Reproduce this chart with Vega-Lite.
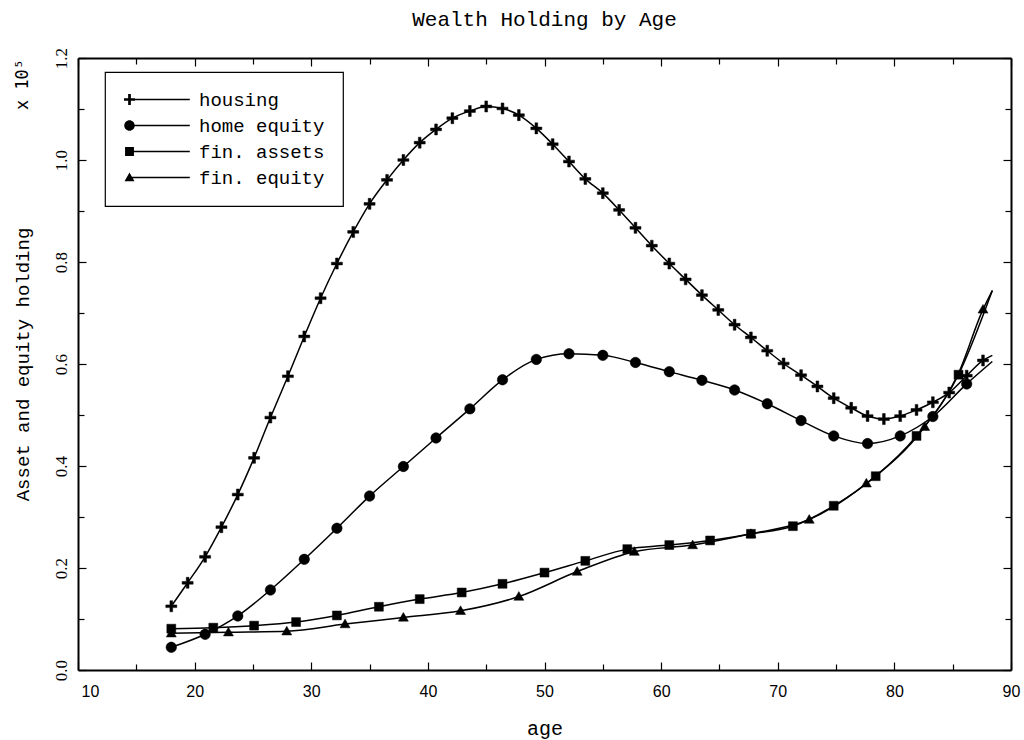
{
  "$schema": "https://vega.github.io/schema/vega-lite/v6.json",
  "width": 933,
  "height": 612,
  "autosize": {"type": "none"},
  "padding": {"left": 78, "top": 58, "right": 13, "bottom": 70},
  "background": "white",
  "title": {"text": "Wealth Holding by Age", "font": "Liberation Mono", "fontSize": 21, "fontWeight": "normal", "color": "black", "anchor": "middle", "frame": "group", "baseline": "alphabetic", "offset": 0},
  "config": {
    "view": {"stroke": null},
    "legend": {"strokeWidth": 1.2}
  },
  "datasets": {
    "markers": [
      {"s": "housing", "age": 18.0, "v": 0.125}, {"s": "housing", "age": 19.4, "v": 0.171}, {"s": "housing", "age": 20.9, "v": 0.222},
      {"s": "housing", "age": 22.3, "v": 0.280}, {"s": "housing", "age": 23.7, "v": 0.344}, {"s": "housing", "age": 25.1, "v": 0.416},
      {"s": "housing", "age": 26.5, "v": 0.495}, {"s": "housing", "age": 28.0, "v": 0.576}, {"s": "housing", "age": 29.4, "v": 0.654},
      {"s": "housing", "age": 30.8, "v": 0.729}, {"s": "housing", "age": 32.2, "v": 0.797}, {"s": "housing", "age": 33.6, "v": 0.859},
      {"s": "housing", "age": 35.0, "v": 0.914}, {"s": "housing", "age": 36.5, "v": 0.961}, {"s": "housing", "age": 37.9, "v": 1.000},
      {"s": "housing", "age": 39.3, "v": 1.034}, {"s": "housing", "age": 40.7, "v": 1.060}, {"s": "housing", "age": 42.1, "v": 1.082},
      {"s": "housing", "age": 43.6, "v": 1.096}, {"s": "housing", "age": 45.0, "v": 1.105}, {"s": "housing", "age": 46.4, "v": 1.101},
      {"s": "housing", "age": 47.8, "v": 1.088}, {"s": "housing", "age": 49.3, "v": 1.062}, {"s": "housing", "age": 50.7, "v": 1.031},
      {"s": "housing", "age": 52.1, "v": 0.997}, {"s": "housing", "age": 53.5, "v": 0.963}, {"s": "housing", "age": 55.0, "v": 0.935},
      {"s": "housing", "age": 56.4, "v": 0.902}, {"s": "housing", "age": 57.8, "v": 0.867}, {"s": "housing", "age": 59.2, "v": 0.832},
      {"s": "housing", "age": 60.7, "v": 0.797}, {"s": "housing", "age": 62.1, "v": 0.766}, {"s": "housing", "age": 63.5, "v": 0.735},
      {"s": "housing", "age": 64.9, "v": 0.706}, {"s": "housing", "age": 66.3, "v": 0.677}, {"s": "housing", "age": 67.7, "v": 0.652},
      {"s": "housing", "age": 69.1, "v": 0.626}, {"s": "housing", "age": 70.5, "v": 0.601}, {"s": "housing", "age": 72.0, "v": 0.578},
      {"s": "housing", "age": 73.4, "v": 0.556}, {"s": "housing", "age": 74.8, "v": 0.533}, {"s": "housing", "age": 76.3, "v": 0.514},
      {"s": "housing", "age": 77.7, "v": 0.498}, {"s": "housing", "age": 79.1, "v": 0.492}, {"s": "housing", "age": 80.5, "v": 0.498},
      {"s": "housing", "age": 81.9, "v": 0.510}, {"s": "housing", "age": 83.3, "v": 0.525}, {"s": "housing", "age": 84.7, "v": 0.544},
      {"s": "housing", "age": 86.2, "v": 0.577}, {"s": "housing", "age": 87.6, "v": 0.607},
      {"s": "home equity", "age": 18.0, "v": 0.0445}, {"s": "home equity", "age": 20.9, "v": 0.070}, {"s": "home equity", "age": 23.7, "v": 0.106},
      {"s": "home equity", "age": 26.5, "v": 0.157}, {"s": "home equity", "age": 29.4, "v": 0.217}, {"s": "home equity", "age": 32.2, "v": 0.278},
      {"s": "home equity", "age": 35.0, "v": 0.341}, {"s": "home equity", "age": 37.9, "v": 0.399}, {"s": "home equity", "age": 40.7, "v": 0.455},
      {"s": "home equity", "age": 43.6, "v": 0.512}, {"s": "home equity", "age": 46.4, "v": 0.569}, {"s": "home equity", "age": 49.3, "v": 0.609},
      {"s": "home equity", "age": 52.1, "v": 0.620}, {"s": "home equity", "age": 55.0, "v": 0.617}, {"s": "home equity", "age": 57.8, "v": 0.603},
      {"s": "home equity", "age": 60.7, "v": 0.585}, {"s": "home equity", "age": 63.5, "v": 0.568}, {"s": "home equity", "age": 66.3, "v": 0.549},
      {"s": "home equity", "age": 69.1, "v": 0.522}, {"s": "home equity", "age": 72.0, "v": 0.489}, {"s": "home equity", "age": 74.8, "v": 0.459},
      {"s": "home equity", "age": 77.7, "v": 0.444}, {"s": "home equity", "age": 80.5, "v": 0.459}, {"s": "home equity", "age": 83.3, "v": 0.497},
      {"s": "home equity", "age": 86.2, "v": 0.561},
      {"s": "fin. assets", "age": 18.0, "v": 0.081}, {"s": "fin. assets", "age": 21.6, "v": 0.083}, {"s": "fin. assets", "age": 25.1, "v": 0.087},
      {"s": "fin. assets", "age": 28.7, "v": 0.094}, {"s": "fin. assets", "age": 32.2, "v": 0.107}, {"s": "fin. assets", "age": 35.8, "v": 0.124},
      {"s": "fin. assets", "age": 39.3, "v": 0.139}, {"s": "fin. assets", "age": 42.9, "v": 0.152}, {"s": "fin. assets", "age": 46.4, "v": 0.169},
      {"s": "fin. assets", "age": 50.0, "v": 0.191}, {"s": "fin. assets", "age": 53.5, "v": 0.214}, {"s": "fin. assets", "age": 57.1, "v": 0.237},
      {"s": "fin. assets", "age": 60.7, "v": 0.245}, {"s": "fin. assets", "age": 64.2, "v": 0.254}, {"s": "fin. assets", "age": 67.7, "v": 0.267},
      {"s": "fin. assets", "age": 71.3, "v": 0.282}, {"s": "fin. assets", "age": 74.8, "v": 0.322}, {"s": "fin. assets", "age": 78.4, "v": 0.380},
      {"s": "fin. assets", "age": 81.9, "v": 0.459}, {"s": "fin. assets", "age": 85.5, "v": 0.579},
      {"s": "fin. equity", "age": 18.0, "v": 0.072}, {"s": "fin. equity", "age": 22.9, "v": 0.074}, {"s": "fin. equity", "age": 27.9, "v": 0.076},
      {"s": "fin. equity", "age": 32.9, "v": 0.090}, {"s": "fin. equity", "age": 37.9, "v": 0.103}, {"s": "fin. equity", "age": 42.8, "v": 0.116},
      {"s": "fin. equity", "age": 47.8, "v": 0.144}, {"s": "fin. equity", "age": 52.8, "v": 0.193}, {"s": "fin. equity", "age": 57.7, "v": 0.232},
      {"s": "fin. equity", "age": 62.7, "v": 0.245}, {"s": "fin. equity", "age": 67.7, "v": 0.267}, {"s": "fin. equity", "age": 72.7, "v": 0.295},
      {"s": "fin. equity", "age": 77.6, "v": 0.366}, {"s": "fin. equity", "age": 82.6, "v": 0.477}, {"s": "fin. equity", "age": 87.6, "v": 0.707}
    ],
    "curves": [
      {"s": "housing", "age": 18.0, "v": 0.125}, {"s": "housing", "age": 19.4, "v": 0.171}, {"s": "housing", "age": 20.9, "v": 0.222},
      {"s": "housing", "age": 22.3, "v": 0.280}, {"s": "housing", "age": 23.7, "v": 0.344}, {"s": "housing", "age": 25.1, "v": 0.416},
      {"s": "housing", "age": 26.5, "v": 0.495}, {"s": "housing", "age": 28.0, "v": 0.576}, {"s": "housing", "age": 29.4, "v": 0.654},
      {"s": "housing", "age": 30.8, "v": 0.729}, {"s": "housing", "age": 32.2, "v": 0.797}, {"s": "housing", "age": 33.6, "v": 0.859},
      {"s": "housing", "age": 35.0, "v": 0.914}, {"s": "housing", "age": 36.5, "v": 0.961}, {"s": "housing", "age": 37.9, "v": 1.000},
      {"s": "housing", "age": 39.3, "v": 1.034}, {"s": "housing", "age": 40.7, "v": 1.060}, {"s": "housing", "age": 42.1, "v": 1.082},
      {"s": "housing", "age": 43.6, "v": 1.096}, {"s": "housing", "age": 45.0, "v": 1.105}, {"s": "housing", "age": 46.4, "v": 1.101},
      {"s": "housing", "age": 47.8, "v": 1.088}, {"s": "housing", "age": 49.3, "v": 1.062}, {"s": "housing", "age": 50.7, "v": 1.031},
      {"s": "housing", "age": 52.1, "v": 0.997}, {"s": "housing", "age": 53.5, "v": 0.963}, {"s": "housing", "age": 55.0, "v": 0.935},
      {"s": "housing", "age": 56.4, "v": 0.902}, {"s": "housing", "age": 57.8, "v": 0.867}, {"s": "housing", "age": 59.2, "v": 0.832},
      {"s": "housing", "age": 60.7, "v": 0.797}, {"s": "housing", "age": 62.1, "v": 0.766}, {"s": "housing", "age": 63.5, "v": 0.735},
      {"s": "housing", "age": 64.9, "v": 0.706}, {"s": "housing", "age": 66.3, "v": 0.677}, {"s": "housing", "age": 67.7, "v": 0.652},
      {"s": "housing", "age": 69.1, "v": 0.626}, {"s": "housing", "age": 70.5, "v": 0.601}, {"s": "housing", "age": 72.0, "v": 0.578},
      {"s": "housing", "age": 73.4, "v": 0.556}, {"s": "housing", "age": 74.8, "v": 0.533}, {"s": "housing", "age": 76.3, "v": 0.514},
      {"s": "housing", "age": 77.7, "v": 0.498}, {"s": "housing", "age": 79.1, "v": 0.492}, {"s": "housing", "age": 80.5, "v": 0.498},
      {"s": "housing", "age": 81.9, "v": 0.510}, {"s": "housing", "age": 83.3, "v": 0.525}, {"s": "housing", "age": 84.7, "v": 0.544},
      {"s": "housing", "age": 86.2, "v": 0.577}, {"s": "housing", "age": 87.6, "v": 0.607}, {"s": "housing", "age": 88.4, "v": 0.617},
      {"s": "home equity", "age": 18.0, "v": 0.0445}, {"s": "home equity", "age": 20.9, "v": 0.070}, {"s": "home equity", "age": 23.7, "v": 0.106},
      {"s": "home equity", "age": 26.5, "v": 0.157}, {"s": "home equity", "age": 29.4, "v": 0.217}, {"s": "home equity", "age": 32.2, "v": 0.278},
      {"s": "home equity", "age": 35.0, "v": 0.341}, {"s": "home equity", "age": 37.9, "v": 0.399}, {"s": "home equity", "age": 40.7, "v": 0.455},
      {"s": "home equity", "age": 43.6, "v": 0.512}, {"s": "home equity", "age": 46.4, "v": 0.569}, {"s": "home equity", "age": 49.3, "v": 0.609},
      {"s": "home equity", "age": 52.1, "v": 0.620}, {"s": "home equity", "age": 55.0, "v": 0.617}, {"s": "home equity", "age": 57.8, "v": 0.603},
      {"s": "home equity", "age": 60.7, "v": 0.585}, {"s": "home equity", "age": 63.5, "v": 0.568}, {"s": "home equity", "age": 66.3, "v": 0.549},
      {"s": "home equity", "age": 69.1, "v": 0.522}, {"s": "home equity", "age": 72.0, "v": 0.489}, {"s": "home equity", "age": 74.8, "v": 0.459},
      {"s": "home equity", "age": 77.7, "v": 0.444}, {"s": "home equity", "age": 80.5, "v": 0.459}, {"s": "home equity", "age": 83.3, "v": 0.497},
      {"s": "home equity", "age": 86.2, "v": 0.561}, {"s": "home equity", "age": 88.4, "v": 0.605},
      {"s": "fin. assets", "age": 18.0, "v": 0.081}, {"s": "fin. assets", "age": 21.6, "v": 0.083}, {"s": "fin. assets", "age": 25.1, "v": 0.087},
      {"s": "fin. assets", "age": 28.7, "v": 0.094}, {"s": "fin. assets", "age": 32.2, "v": 0.107}, {"s": "fin. assets", "age": 35.8, "v": 0.124},
      {"s": "fin. assets", "age": 39.3, "v": 0.139}, {"s": "fin. assets", "age": 42.9, "v": 0.152}, {"s": "fin. assets", "age": 46.4, "v": 0.169},
      {"s": "fin. assets", "age": 50.0, "v": 0.191}, {"s": "fin. assets", "age": 53.5, "v": 0.214}, {"s": "fin. assets", "age": 57.1, "v": 0.237},
      {"s": "fin. assets", "age": 60.7, "v": 0.245}, {"s": "fin. assets", "age": 64.2, "v": 0.254}, {"s": "fin. assets", "age": 67.7, "v": 0.267},
      {"s": "fin. assets", "age": 71.3, "v": 0.282}, {"s": "fin. assets", "age": 74.8, "v": 0.322}, {"s": "fin. assets", "age": 78.4, "v": 0.380},
      {"s": "fin. assets", "age": 81.9, "v": 0.459}, {"s": "fin. assets", "age": 85.5, "v": 0.579}, {"s": "fin. assets", "age": 88.4, "v": 0.744},
      {"s": "fin. equity", "age": 18.0, "v": 0.072}, {"s": "fin. equity", "age": 22.9, "v": 0.074}, {"s": "fin. equity", "age": 27.9, "v": 0.076},
      {"s": "fin. equity", "age": 32.9, "v": 0.090}, {"s": "fin. equity", "age": 37.9, "v": 0.103}, {"s": "fin. equity", "age": 42.8, "v": 0.116},
      {"s": "fin. equity", "age": 47.8, "v": 0.144}, {"s": "fin. equity", "age": 52.8, "v": 0.193}, {"s": "fin. equity", "age": 57.7, "v": 0.232},
      {"s": "fin. equity", "age": 62.7, "v": 0.245}, {"s": "fin. equity", "age": 67.7, "v": 0.267}, {"s": "fin. equity", "age": 72.7, "v": 0.295},
      {"s": "fin. equity", "age": 77.6, "v": 0.366}, {"s": "fin. equity", "age": 82.6, "v": 0.477}, {"s": "fin. equity", "age": 85.5, "v": 0.582},
      {"s": "fin. equity", "age": 87.6, "v": 0.707}, {"s": "fin. equity", "age": 88.4, "v": 0.744}
    ]
  },
  "layer": [
    {
      "data": {"name": "curves"},
      "mark": {"type": "line", "interpolate": "monotone", "color": "black", "strokeWidth": 1.5},
      "encoding": {
        "x": {"field": "age", "type": "quantitative", "scale": {"domain": [10, 90], "nice": false, "zero": false},
          "axis": {"orient": "bottom", "values": [10,15,20,25,30,35,40,45,50,55,60,65,70,75,80,85,90], "format": "d",
            "labelExpr": "datum.value % 10 === 0 ? datum.label : ''",
            "labelFont": "Liberation Sans", "labelFontSize": 16, "labelColor": "black", "labelPadding": 21,
            "labelAlign": {"condition": {"test": "datum.value == 10", "value": "left"}, "value": "center"},
            "labelOffset": {"condition": {"test": "datum.value == 10", "value": 3}, "value": 0},
            "tickSize": {"condition": {"test": "datum.value % 10 === 0", "value": -8}, "value": -6},
            "tickColor": "black", "tickWidth": 1.2, "domainColor": "black", "domainWidth": 2, "grid": false,
            "title": "age", "titleFont": "Liberation Mono", "titleFontSize": 20, "titleFontWeight": "normal", "titleColor": "black",
            "titleY": 58, "titleBaseline": "middle"}},
        "y": {"field": "v", "type": "quantitative", "scale": {"domain": [0, 1.2], "nice": false},
          "axis": {"orient": "left", "values": [0,0.1,0.2,0.3,0.4,0.5,0.6,0.7,0.8,0.9,1.0,1.1,1.2],
            "labelExpr": "round(datum.value*10) % 2 === 0 ? format(datum.value, '.1f') : ''",
            "labelAngle": 270, "labelAlign": "center", "labelBaseline": "middle",
            "labelFont": "Liberation Serif", "labelFontSize": 17, "labelColor": "black", "labelPadding": 25,
            "tickSize": {"condition": {"test": "round(datum.value*10) % 2 === 0", "value": -8}, "value": -6},
            "tickColor": "black", "tickWidth": 1.2, "domainColor": "black", "domainWidth": 2, "grid": false,
            "title": "Asset and equity holding", "titleFont": "Liberation Mono", "titleFontSize": 19, "titleFontWeight": "normal", "titleColor": "black",
            "titleX": -56, "titleY": 306, "titleAngle": 270, "titleAlign": "center", "titleBaseline": "middle"}},
        "detail": {"field": "s"}
      }
    },
    {
      "data": {"name": "markers"},
      "mark": {"type": "point", "filled": true, "color": "black", "stroke": "black", "strokeWidth": 0.5, "opacity": 1, "size": 110},
      "encoding": {
        "x": {"field": "age", "type": "quantitative", "axis": null},
        "y": {"field": "v", "type": "quantitative", "axis": null},
        "shape": {"field": "s", "type": "nominal", "legend": null,
          "scale": {"domain": ["housing", "home equity", "fin. assets", "fin. equity"],
            "range": [
              "M-0.26,-1.05H0.26V-0.26H1.05V0.26H0.26V1.05H-0.26V0.26H-1.05V-0.26H-0.26Z",
              "M-1,0A1,1,0,1,1,1,0A1,1,0,1,1,-1,0Z",
              "M-0.85,-0.85H0.85V0.85H-0.85Z",
              "M0,-0.95L0.95,0.7H-0.95Z"
            ]}}
      }
    },
    {
      "data": {"name": "markers"},
      "mark": {"type": "point", "filled": true, "color": "black", "stroke": "black", "strokeWidth": 1.5, "opacity": 0, "size": 110},
      "encoding": {
        "x": {"field": "age", "type": "quantitative",
          "axis": {"orient": "top", "values": [10,15,20,25,30,35,40,45,50,55,60,65,70,75,80,85,90], "labels": false,
            "tickSize": {"condition": {"test": "datum.value % 10 === 0", "value": -8}, "value": -6},
            "tickColor": "black", "tickWidth": 1.2, "domainColor": "black", "domainWidth": 2, "grid": false,
            "title": "x 10⁵", "titleFont": "DejaVu Sans Mono", "titleFontSize": 17, "titleFontWeight": "normal", "titleColor": "black",
            "titleX": -56, "titleY": 26, "titleAngle": 270, "titleAlign": "center", "titleBaseline": "middle"}},
        "y": {"field": "v", "type": "quantitative",
          "axis": {"orient": "right", "values": [0,0.1,0.2,0.3,0.4,0.5,0.6,0.7,0.8,0.9,1.0,1.1,1.2], "labels": false,
            "tickSize": {"condition": {"test": "round(datum.value*10) % 2 === 0", "value": -8}, "value": -6},
            "tickColor": "black", "tickWidth": 1.2, "domainColor": "black", "domainWidth": 2, "grid": false, "title": null}},
        "shape": {"field": "s", "type": "nominal",
          "scale": {"domain": ["housing", "home equity", "fin. assets", "fin. equity"],
            "range": [
              "M-0.26,-1.05H0.26V-0.26H1.05V0.26H0.26V1.05H-0.26V0.26H-1.05V-0.26H-0.26Z M0,-0.14H11.5V0.14H0Z",
              "M-1,0A1,1,0,1,1,1,0A1,1,0,1,1,-1,0Z M0,-0.14H11.5V0.14H0Z",
              "M-0.85,-0.85H0.85V0.85H-0.85Z M0,-0.14H11.5V0.14H0Z",
              "M0,-0.95L0.95,0.7H-0.95Z M0,-0.14H11.5V0.14H0Z"
            ]},
          "legend": {"orient": "none", "legendX": 27, "legendY": 14, "title": null, "padding": 18,
            "strokeColor": "black", "fillColor": "white", "symbolSize": 110, "symbolOffset": -3,
            "symbolFillColor": "black", "symbolStrokeColor": "black", "symbolStrokeWidth": 1.5, "symbolOpacity": 1,
            "labelFont": "Liberation Mono", "labelFontSize": 19, "labelColor": "black", "labelOffset": 60,
            "rowPadding": 6, "labelBaseline": "middle", "labelLimit": 400}}
      }
    }
  ],
  "resolve": {
    "scale": {"shape": "independent"},
    "axis": {"x": "independent", "y": "independent"},
    "legend": {"shape": "independent"}
  }
}
